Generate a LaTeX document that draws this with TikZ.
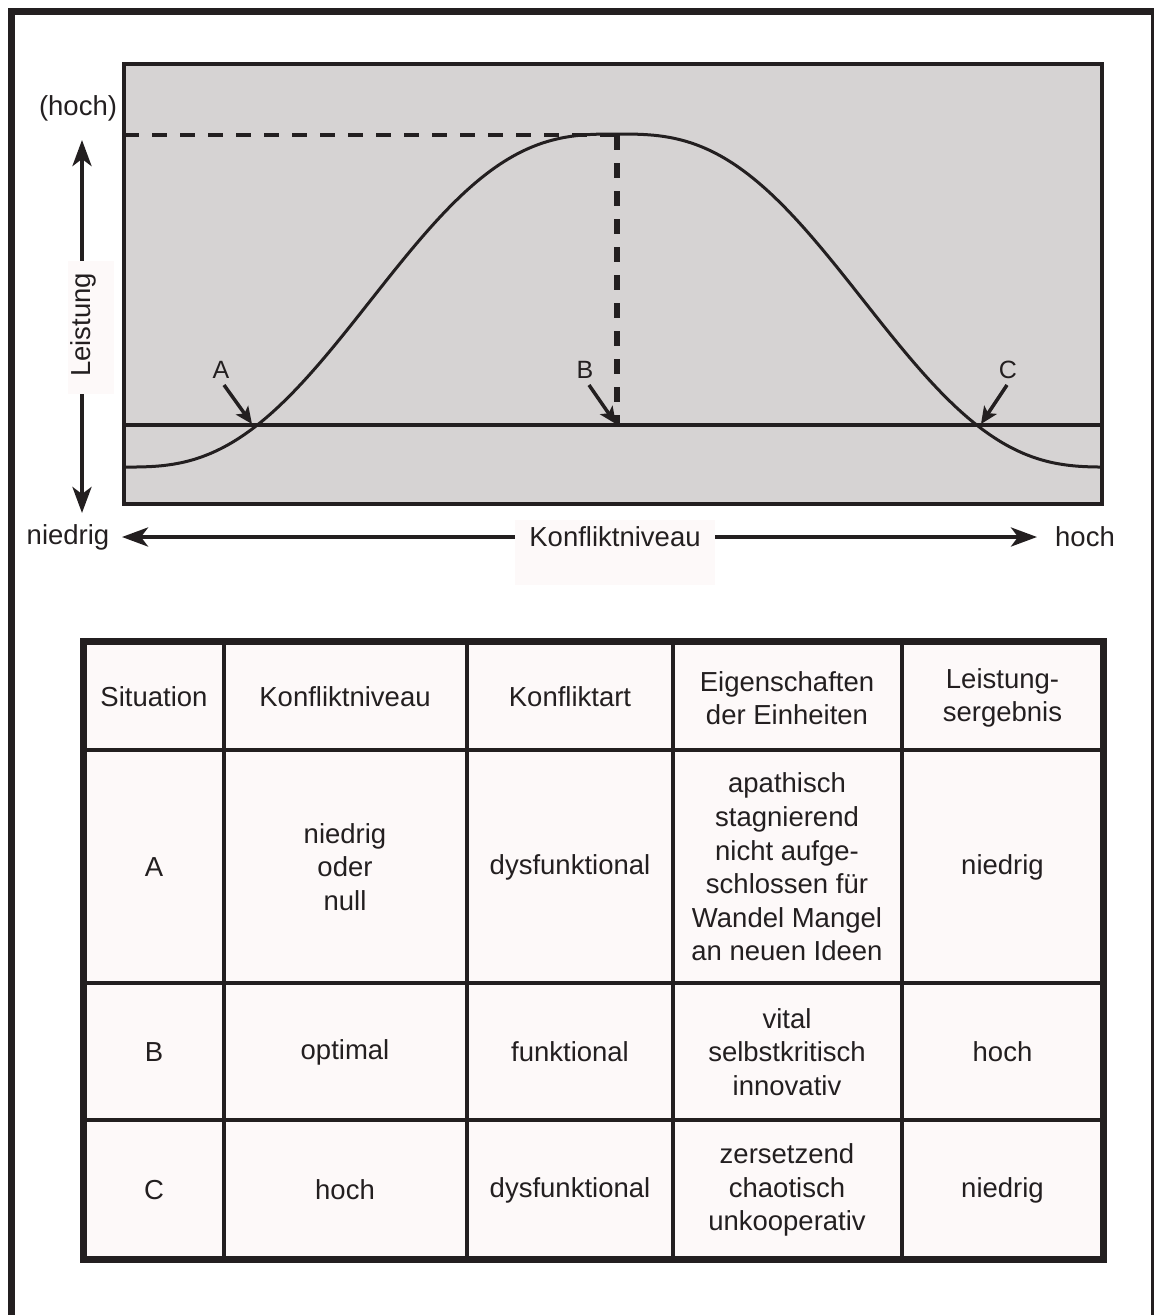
\documentclass[tikz,border=0pt]{standalone}
\usepackage{fontspec}
\setmainfont{Liberation Sans}
\usetikzlibrary{arrows.meta}
\definecolor{ink}{RGB}{35,31,32}
\definecolor{plotgray}{RGB}{214,211,211}
\definecolor{paper}{RGB}{253,249,249}

\begin{document}
\begin{tikzpicture}[x=1pt,y=-1pt,
  every node/.style={text=ink, font=\fontsize{27.5}{33.6}\selectfont, inner sep=0pt},
  letterlabel/.style={font=\fontsize{25}{30}\selectfont},
  axisarrow/.style={draw=ink, line width=4pt, -{Stealth[length=26pt,width=19pt,inset=7pt]}},
  markarrow/.style={draw=ink, line width=3.5pt, -{Stealth[length=17pt,width=15pt,inset=4pt]}},
  dashline/.style={draw=ink, dash pattern=on 15pt off 13pt},
  labelbox/.style={fill=paper, draw=none},
  cellline/.style={draw=ink, line width=4pt},
  celltext/.style={align=center},
  declare function={tt(\x)=max(0,1-abs(\x-617)/493); sm(\t)=\t*\t*\t*(10-15*\t+6*\t*\t);}
]
\useasboundingbox (0,0) rectangle (1154,1315);
\clip (0,0) rectangle (1154,1315);

% outer frame
\draw[ink, line width=7pt] (11.5,11) rectangle (1154.5,1340);

% ---------- chart ----------
\fill[plotgray] (124,64) rectangle (1102,504);
\begin{scope}
  \clip (124,64) rectangle (1102,504);
  \draw[ink, line width=3pt] plot[domain=124:1102, samples=241, smooth]
        (\x, {467-333*sm(tt(\x))});
  \draw[ink, line width=3.5pt] (124,425) -- (1102,425);
  \draw[dashline, line width=4pt] (124,135) -- (617,135);
  \draw[dashline, line width=6pt] (617,135) -- (617,425);
\end{scope}
\draw[ink, line width=4pt] (124,64) rectangle (1102,504);

% points A, B, C
\coordinate (ptA) at (252,424);
\coordinate (ptB) at (616,424);
\coordinate (ptC) at (981,424);
\node[letterlabel] (labA) at (221,370) {A};
\node[letterlabel] (labB) at (585,370) {B};
\node[letterlabel] (labC) at (1008,370) {C};
\coordinate (stA) at (224,385);
\coordinate (stB) at (589,385);
\coordinate (stC) at (1007,385);
\draw[markarrow] (stA) -- (ptA);
\draw[markarrow] (stB) -- (ptB);
\draw[markarrow] (stC) -- (ptC);

% vertical axis
\node[labelbox, minimum width=46pt, minimum height=133pt] (lbox) at (91,327.5) {};
\node[rotate=90] (leistung) at (83,325) {Leistung};
\node (yhoch) at (78,108) {(hoch)};
\coordinate (ytop) at (82,140);
\coordinate (ybot) at (82,513);
\draw[axisarrow] (ytop |- lbox.north) -- (ytop);
\draw[axisarrow] (ybot |- lbox.south) -- (ybot);

% horizontal axis
\node[labelbox, minimum width=200pt, minimum height=65pt] (kbox) at (615,552.5) {};
\node (kniveau) at (615,537) {Konfliktniveau};
\node (xniedrig) at (68,537) {niedrig};
\node (xhoch) at (1085,537) {hoch};
\coordinate (xleft) at (122,537);
\coordinate (xright) at (1037,537);
\draw[axisarrow] (kbox.west |- kniveau.center) -- (xleft);
\draw[axisarrow] (kbox.east |- kniveau.center) -- (xright);

% ---------- table ----------
\fill[paper] (83.5,641.5) rectangle (1103.5,1259.5);
\foreach \cx in {224,466.5,673,901.5}
  \draw[cellline] (\cx,641.5) -- (\cx,1259.5);
\foreach \ry in {750,982.5,1120}
  \draw[cellline] (83.5,\ry) -- (1103.5,\ry);
\draw[ink, line width=7pt] (83.5,641.5) rectangle (1103.5,1259.5);

% header
\node[celltext] (h1) at (154,697) {Situation};
\node[celltext] (h2) at (345,697) {Konfliktniveau};
\node[celltext] (h3) at (570,697) {Konfliktart};
\node[celltext] (h4) at (787,698) {Eigenschaften\\der Einheiten};
\node[celltext] (h5) at (1002.5,698) {Leistung-\\sergebnis};

% row A
\node[celltext] (a1) at (154,867) {A};
\node[celltext] (a2) at (345,867) {niedrig\\oder\\null};
\node[celltext] (a3) at (570,867) {dysfunktional};
\node[celltext] (a4) at (787,867) {apathisch\\stagnierend\\nicht aufge-\\schlossen für\\Wandel Mangel\\an neuen Ideen};
\node[celltext] (a5) at (1002.5,867) {niedrig};

% row B
\node[celltext] (b1) at (154,1052) {B};
\node[celltext] (b2) at (345,1052) {optimal};
\node[celltext] (b3) at (570,1052) {funktional};
\node[celltext] (b4) at (787,1052) {vital\\selbstkritisch\\innovativ};
\node[celltext] (b5) at (1002.5,1052) {hoch};

% row C
\node[celltext] (c1) at (154,1190) {C};
\node[celltext] (c2) at (345,1190) {hoch};
\node[celltext] (c3) at (570,1190) {dysfunktional};
\node[celltext] (c4) at (787,1190) {zersetzend\\chaotisch\\unkooperativ};
\node[celltext] (c5) at (1002.5,1190) {niedrig};
\end{tikzpicture}
\end{document}
